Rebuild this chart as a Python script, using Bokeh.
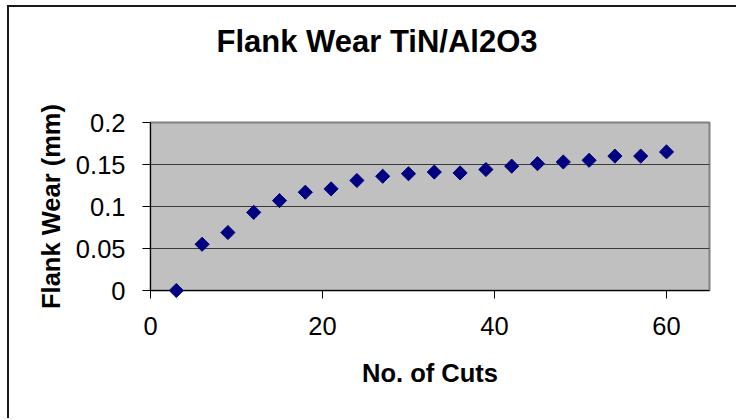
from bokeh.plotting import figure
from bokeh.models import FixedTicker, NumeralTickFormatter, Range1d, Title
from bokeh.embed import file_html
from bokeh.resources import INLINE
import math

# Flank wear measured after each batch of cuts (TiN/Al2O3 coated tool)
cuts = [3, 6, 9, 12, 15, 18, 21, 24, 27, 30, 33, 36, 39, 42, 45, 48, 51, 54, 57, 60]
wear_mm = [0.0, 0.055, 0.069, 0.093, 0.107, 0.117, 0.121, 0.131, 0.136, 0.139,
           0.141, 0.140, 0.144, 0.148, 0.151, 0.153, 0.155, 0.160, 0.160, 0.165]

x_ticks = [0, 20, 40, 60]
y_ticks = [0, 0.05, 0.1, 0.15, 0.2]

FONT = "Liberation Sans"

p = figure(
    width=729, height=413, title=None,
    output_backend="svg", toolbar_location=None,
    x_range=Range1d(0, 65), y_range=Range1d(0, 0.2),
    min_border_left=141, min_border_right=29,
    min_border_top=115, min_border_bottom=130,
    background_fill_color="#C0C0C0", border_fill_color="white",
)
# outer chart border (left and top edges visible in the window)
p.styles = {
    "margin-left": "7px", "margin-top": "5px",
    "border-left": "2px solid #1a1a1a", "border-top": "2px solid #1a1a1a",
}

p.outline_line_color = "#808080"
p.outline_line_width = 2

# spacer between plot area and chart title
spacer = Title(text=" ", text_font=FONT, text_font_size="1px", standoff=56)
p.add_layout(spacer, "above")

title = Title(text="Flank Wear TiN/Al2O3", align="left", offset=66,
              vertical_align="bottom", standoff=10,
              text_font=FONT, text_font_size="31px", text_font_style="bold",
              text_color="black")
p.add_layout(title, "above")

# grid: horizontal lines only
p.xgrid.grid_line_color = None
p.ygrid.grid_line_color = "#3a3a3a"
p.ygrid.grid_line_width = 1
p.ygrid.ticker = FixedTicker(ticks=y_ticks)

for ax in (p.xaxis[0], p.yaxis[0]):
    ax.axis_line_color = "black"
    ax.axis_line_width = 1
    ax.major_tick_line_color = "black"
    ax.major_tick_in = 0
    ax.major_tick_out = 8
    ax.minor_tick_line_color = None
    ax.major_label_text_font = FONT
    ax.major_label_text_font_size = "25.5px"
    ax.major_label_text_color = "black"
    ax.axis_label_text_font = FONT
    ax.axis_label_text_font_size = "25.5px"
    ax.axis_label_text_font_style = "bold"
    ax.axis_label_text_color = "black"

p.xaxis.ticker = FixedTicker(ticks=x_ticks)
p.xaxis.axis_label = "No. of Cuts"
p.xaxis.major_label_standoff = 18
p.xaxis.axis_label_standoff = 21

p.yaxis.ticker = FixedTicker(ticks=y_ticks)
p.yaxis.formatter = NumeralTickFormatter(format="0.[00]")
p.yaxis.axis_label = "Flank Wear (mm)"
p.yaxis.major_label_standoff = 17
p.yaxis.axis_label_standoff = 8

r = p.scatter(cuts, wear_mm, marker="square", angle=math.pi / 4, size=10,
              fill_color="#000080", line_color="#000080")
r.level = "overlay"

open("out.html", "w").write(file_html(p, INLINE))
